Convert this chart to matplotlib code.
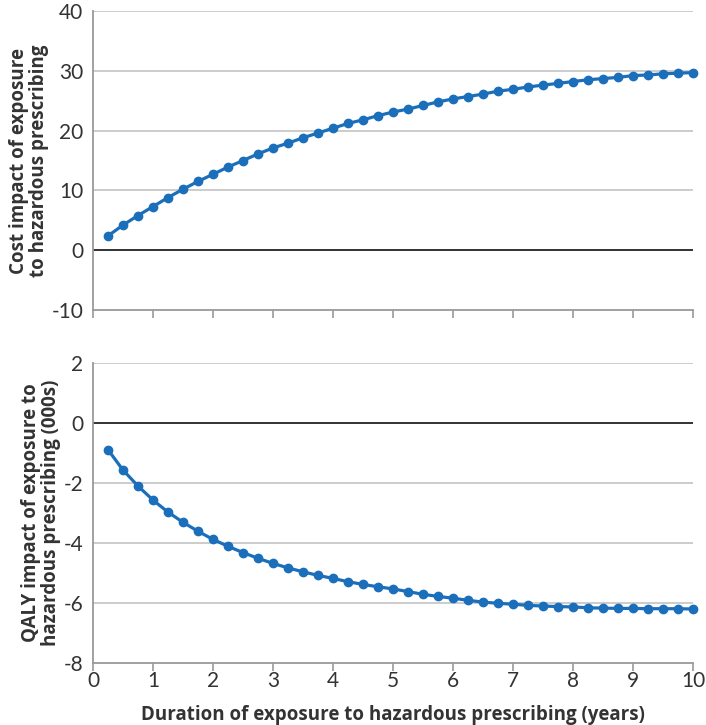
import matplotlib
matplotlib.use("Agg")
import matplotlib.pyplot as plt
import numpy as np

years = [0.25 * i for i in range(1, 41)]
cost_impact = [2.4, 4.2, 5.8, 7.3, 8.8, 10.2, 11.5, 12.7, 13.9, 15.0,
               16.1, 17.1, 17.9, 18.8, 19.6, 20.4, 21.2, 21.8, 22.5, 23.1,
               23.6, 24.2, 24.8, 25.3, 25.7, 26.1, 26.6, 26.9, 27.3, 27.6,
               27.9, 28.2, 28.5, 28.7, 28.9, 29.2, 29.3, 29.5, 29.6, 29.7]
qaly_impact = [-0.89, -1.57, -2.10, -2.57, -2.97, -3.31, -3.61, -3.88, -4.11, -4.32,
               -4.51, -4.68, -4.83, -4.96, -5.08, -5.18, -5.29, -5.38, -5.46, -5.53,
               -5.62, -5.71, -5.78, -5.84, -5.91, -5.97, -6.01, -6.04, -6.08, -6.10,
               -6.12, -6.13, -6.16, -6.17, -6.18, -6.18, -6.19, -6.19, -6.19, -6.20]
x_ticks = list(range(0, 11))
cost_ticks = [-10, 0, 10, 20, 30, 40]
qaly_ticks = [-8, -6, -4, -2, 0, 2]
cost_label = "Cost impact of exposure\nto hazardous prescribing"
qaly_label = "QALY impact of exposure to\nhazardous prescribing (000s)"
x_label = "Duration of exposure to hazardous prescribing (years)"

plt.rcParams['font.family'] = ['Open Sans', 'DejaVu Sans']
W, H = 706, 725
fig = plt.figure(figsize=(W / 100, H / 100), dpi=100)

line_color = "#1b6fba"
grid_color = "#c8c8c8"
spine_color = "#9a9a9a"
text_color = "#333333"
tick_font = dict(fontsize=15, color=text_color, family=["Lato", "DejaVu Sans"],
                 fontweight="normal")

def make_ax(rect, y, ticks, ylabel, show_xlabels):
    ax = fig.add_axes(rect)
    ax.set_xlim(0, 10)
    ax.set_ylim(ticks[0], ticks[-1])
    ax.set_yticks(ticks)
    ax.set_yticklabels([str(t) for t in ticks], **tick_font)
    ax.set_xticks(x_ticks)
    if show_xlabels:
        ax.set_xticklabels([str(t) for t in x_ticks], **tick_font)
    else:
        ax.set_xticklabels([])
    for t in ticks[1:]:
        if t == 0:
            ax.axhline(0, color="#222222", lw=1.3, zorder=2)
        else:
            ax.axhline(t, color=grid_color, lw=1.3, zorder=1)
    for s in ["top", "right"]:
        ax.spines[s].set_visible(False)
    for s in ["left", "bottom"]:
        ax.spines[s].set_color(spine_color)
        ax.spines[s].set_linewidth(1.3)
    ax.tick_params(axis="y", length=0, pad=7)
    ax.tick_params(axis="x", length=6, width=1.2, color=spine_color, direction="out", pad=0)
    ax.plot(years, y, color=line_color, lw=2.3, marker="o", markersize=6, zorder=3,
            clip_on=False)
    ax.set_ylabel(ylabel, fontsize=13.5, fontweight="bold", color=text_color, labelpad=2,
                  linespacing=1.0)
    return ax

ax1 = make_ax([93 / W, 1 - 310 / H, 600 / W, 299 / H], cost_impact, cost_ticks, cost_label, False)
ax2 = make_ax([93 / W, 1 - 663 / H, 600 / W, 300 / H], qaly_impact, qaly_ticks, qaly_label, True)
ax2.set_xlabel(x_label, fontsize=13.5, fontweight="bold", color=text_color, labelpad=10)

fig.savefig("out.png", dpi=100)
